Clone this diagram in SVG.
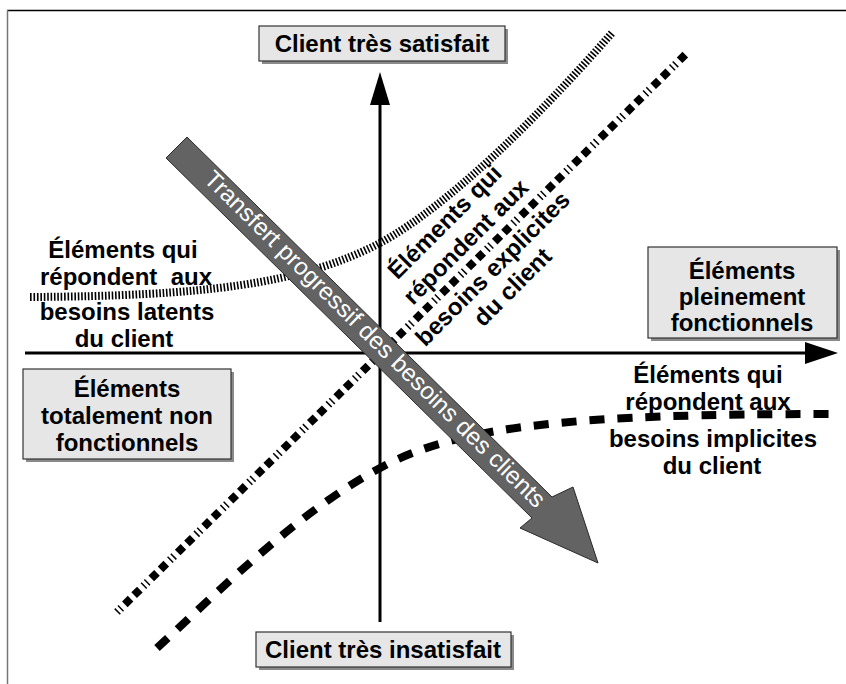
<svg xmlns="http://www.w3.org/2000/svg" width="846" height="684" viewBox="0 0 846 684">
<defs>
<style>
.box{fill:#e6e6e6;stroke:#333;stroke-width:1.2}
.shadow{fill:#8a8a8a}
.t{font-family:"Liberation Sans",Arial,sans-serif;font-weight:bold;font-size:24px;fill:#000;text-anchor:middle}
.w{font-family:"Liberation Sans",Arial,sans-serif;font-size:24px;fill:#fff;text-anchor:middle}
.axis{stroke:#000;stroke-width:3;fill:none}
</style>
</defs>
<rect width="846" height="684" fill="#fff"/>
<line x1="7" y1="10.5" x2="846" y2="10.5" stroke="#000" stroke-width="1.5"/>
<line x1="7.5" y1="10" x2="7.5" y2="684" stroke="#777" stroke-width="1.5"/>

<g id="connectors">
<line class="axis" x1="380" y1="622" x2="380" y2="100"/>
<polygon points="380,72 370,105 390,105" fill="#000"/>
<line class="axis" x1="25" y1="353" x2="805" y2="353"/>
<polygon points="838,353 805,342 805,364" fill="#000"/>
<path id="latent" d="M30,297 C200,296 300,285 380,243 C450,205 540,115 612,33" fill="none" stroke="#000" stroke-width="8" stroke-dasharray="1.6 1.8"/>
<line id="explicit" x1="117" y1="612" x2="688" y2="52" stroke="#000" stroke-width="8" stroke-dasharray="1.5 3 1.5 5 8 5 8 5"/>
<path id="implicit" d="M157,648 C220,590 300,510 382,467 C460,425 580,414 830,414" fill="none" stroke="#000" stroke-width="8" stroke-dasharray="15 13"/>
</g>

<g id="transfer-arrow">
<polygon points="187,137 552,497 573,487 598,563 520,528 532,518 166,158" fill="#636363" stroke="#2a2a2a" stroke-width="1"/>
<text class="w" transform="translate(375,339) rotate(44.6)" x="0" y="8" textLength="468" lengthAdjust="spacingAndGlyphs">Transfert progressif des besoins des clients</text>
</g>

<g id="client-tres-satisfait">
<rect class="shadow" x="262" y="29" width="246" height="35"/>
<rect class="box" x="259" y="26" width="246" height="35"/>
<text class="t" x="382" y="52">Client très satisfait</text>
</g>

<g id="client-tres-insatisfait">
<rect class="shadow" x="259" y="635" width="255" height="35"/>
<rect class="box" x="256" y="632" width="255" height="35"/>
<text class="t" x="383" y="658">Client très insatisfait</text>
</g>

<g id="elements-pleinement-fonctionnels">
<rect class="shadow" x="651" y="250" width="189" height="91"/>
<rect class="box" x="648" y="247" width="189" height="91"/>
<text class="t" x="742" y="279">Éléments</text>
<text class="t" x="742" y="305">pleinement</text>
<text class="t" x="742" y="331">fonctionnels</text>
</g>

<g id="elements-totalement-non-fonctionnels">
<rect class="shadow" x="26" y="372" width="208" height="90"/>
<rect class="box" x="23" y="369" width="208" height="90"/>
<text class="t" x="127" y="397">Éléments</text>
<text class="t" x="127" y="424">totalement non</text>
<text class="t" x="127" y="451">fonctionnels</text>
</g>

<g id="besoins-latents">
<text class="t" x="123" y="258">Éléments qui</text>
<text class="t" x="126" y="285" xml:space="preserve">répondent  aux</text>
<text class="t" x="127" y="320">besoins latents</text>
<text class="t" x="124" y="347">du client</text>
</g>

<g id="besoins-implicites">
<text class="t" x="708" y="383">Éléments qui</text>
<text class="t" x="708" y="410">répondent aux</text>
<text class="t" x="713" y="447">besoins implicites</text>
<text class="t" x="712" y="474">du client</text>
</g>

<g id="besoins-explicites" transform="translate(480,256) rotate(-45)">
<text class="t" x="-1" y="-41">Éléments qui</text>
<text class="t" x="0" y="-12">répondent aux</text>
<text class="t" x="0" y="26">besoins explicites</text>
<text class="t" x="1" y="53">du client</text>
</g>
</svg>
